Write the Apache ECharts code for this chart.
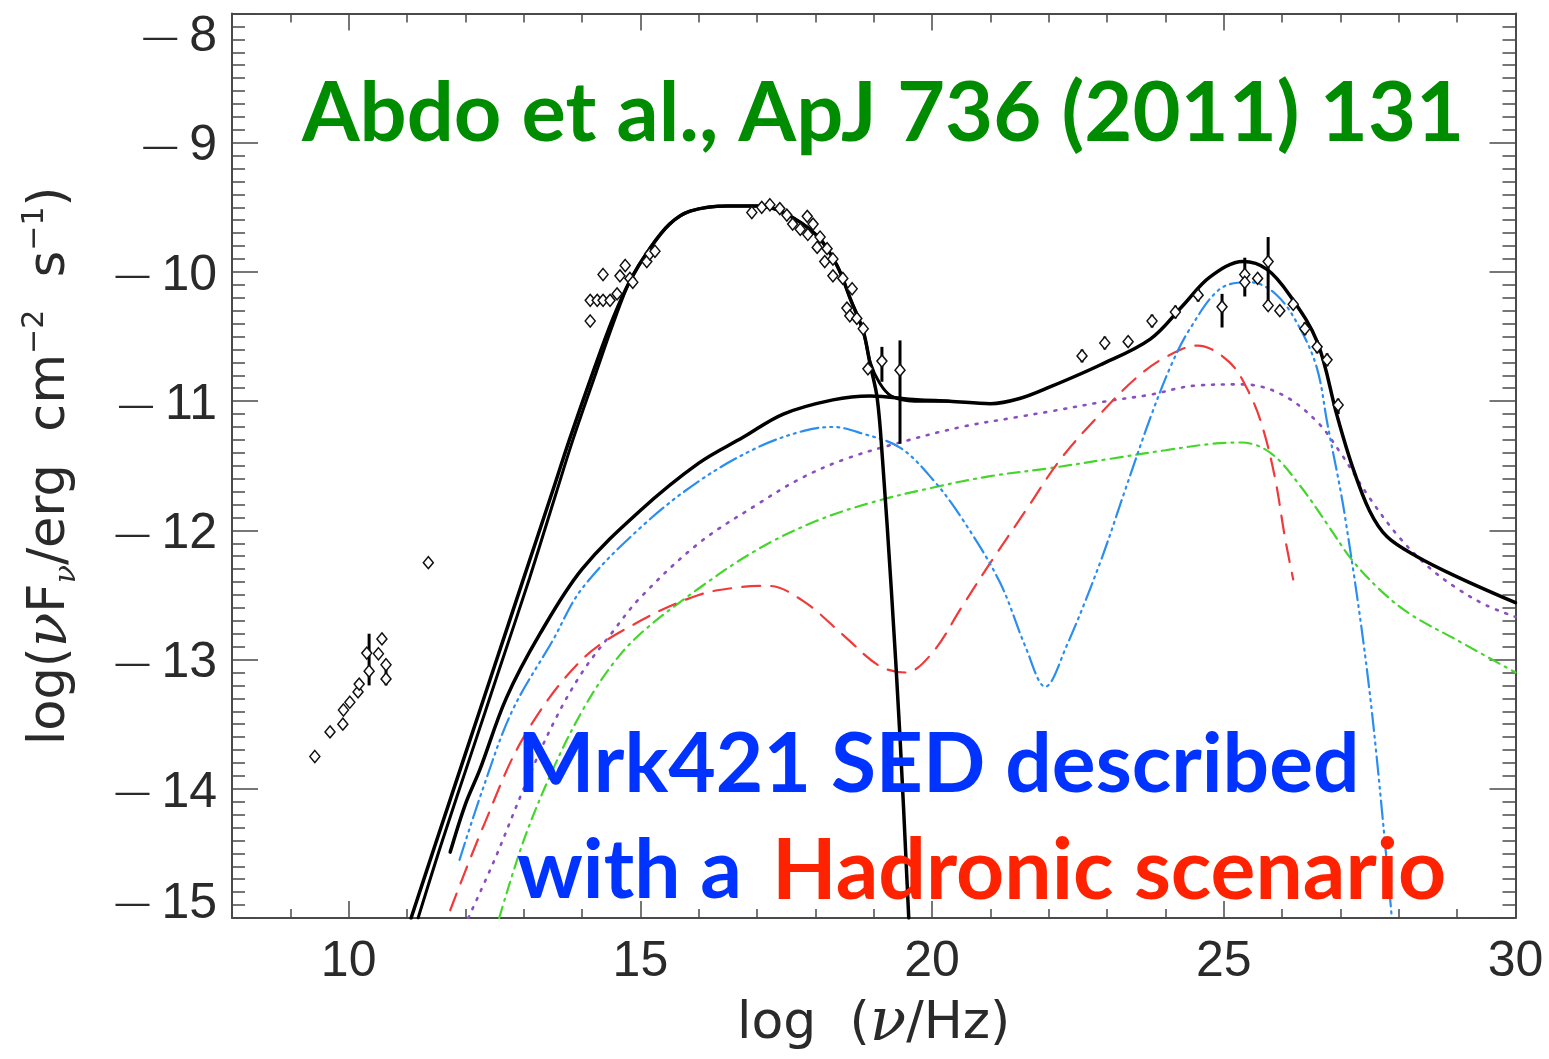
<!DOCTYPE html>
<html><head><meta charset="utf-8">
<script src="https://cdn.jsdelivr.net/npm/echarts@6/dist/echarts.min.js"></script>
<style>html,body{margin:0;padding:0;background:#fff}#c{width:1549px;height:1059px}</style>
</head><body><div id="c"></div>
<script>
// ---- data (log nu, log nuFnu) ----
const xMajorTicks = [10, 15, 20, 25, 30];
const synchrotron = [[11.07,-15],[11.5,-14.41],[12,-13.73],[12.5,-13.05],[13,-12.37],[13.5,-11.69],[13.79,-11.29],[14.2,-10.76],[14.53,-10.36],[14.82,-10.07],[15.16,-9.82],[15.5,-9.63],[15.85,-9.53],[16.5,-9.49],[17,-9.49],[17.45,-9.54],[18.03,-9.72],[18.37,-9.95],[18.6,-10.21],[18.82,-10.46],[18.94,-10.72],[19.06,-10.98],[19.15,-11.45],[19.3,-12.45],[19.45,-13.6],[19.6,-15]];
const totalLow = [[11.19,-15],[11.6,-14.41],[12.1,-13.73],[12.6,-13.05],[13.1,-12.37],[13.55,-11.72],[13.85,-11.29],[14.24,-10.78],[14.55,-10.38],[14.82,-10.07],[15.16,-9.82],[15.5,-9.63],[15.85,-9.53],[16.5,-9.49],[17,-9.49],[17.45,-9.54],[18.03,-9.72],[18.37,-9.95],[18.6,-10.21],[18.82,-10.46],[18.94,-10.7],[19.1,-10.86],[19.3,-10.96],[19.7,-11.0],[20.3,-11.0]];
const hadronicSum = [[11.74,-14.49],[12,-14.12],[12.25,-13.85],[12.7,-13.3],[13.28,-12.8],[14,-12.3],[14.99,-11.85],[16,-11.48],[16.76,-11.28],[17.45,-11.1],[18.3,-10.99],[18.94,-10.96],[19.74,-10.99],[20.3,-11.0],[21,-11.02],[21.5,-10.98],[22.02,-10.89],[22.88,-10.72],[23.74,-10.52],[24.3,-10.26],[24.76,-10.04],[25.33,-9.92],[25.74,-9.98],[26.13,-10.18],[26.6,-10.54],[26.94,-11.11],[27.2,-11.5],[27.5,-11.85],[27.8,-12.05],[28.3,-12.2],[29,-12.36],[30,-12.56]];
const blueComp = [[11.9,-14.55],[12.3,-14.0],[12.8,-13.4],[13.5,-12.85],[14,-12.45],[15,-11.98],[16,-11.62],[17,-11.36],[17.8,-11.23],[18.3,-11.2],[18.8,-11.25],[19.45,-11.36],[20,-11.6],[20.5,-11.9],[21.16,-12.4],[21.6,-12.9],[21.94,-13.21],[22.3,-12.9],[22.88,-12.25],[23.3,-11.7],[23.74,-11.13],[24.1,-10.72],[24.42,-10.44],[24.94,-10.13],[25.45,-10.08],[25.91,-10.18],[26.31,-10.44],[26.6,-10.75],[26.77,-11.16],[27.08,-11.9],[27.51,-13.29],[27.88,-15]];
const redComp = [[11.74,-14.94],[12.3,-14.3],[13,-13.6],[14,-13.0],[15,-12.7],[16,-12.5],[16.7,-12.44],[17.2,-12.43],[17.8,-12.55],[18.5,-12.82],[19.1,-13.05],[19.55,-13.1],[20,-12.95],[20.5,-12.6],[21,-12.25],[21.6,-11.85],[22.2,-11.45],[22.88,-11.1],[23.5,-10.82],[24,-10.66],[24.55,-10.57],[25.1,-10.7],[25.45,-10.95],[25.67,-11.21],[25.88,-11.6],[26.05,-12.06],[26.19,-12.38]];
const purpleComp = [[12.05,-15],[12.5,-14.55],[13,-14.0],[13.5,-13.5],[14,-13.1],[14.5,-12.8],[15,-12.52],[16,-12.1],[17,-11.8],[17.74,-11.6],[18.5,-11.45],[19.45,-11.32],[20.5,-11.2],[21.5,-11.12],[22.02,-11.08],[23,-11.0],[23.74,-10.95],[24.5,-10.88],[25.33,-10.87],[26,-10.95],[26.6,-11.16],[27,-11.4],[27.5,-11.75],[28,-12.05],[28.5,-12.28],[29,-12.45],[29.5,-12.58],[30,-12.67]];
const greenComp = [[12.58,-15],[13,-14.4],[13.5,-13.85],[14,-13.4],[14.5,-13.05],[15,-12.8],[16,-12.45],[17,-12.15],[18,-11.93],[19,-11.78],[20,-11.67],[21,-11.58],[22,-11.52],[23,-11.45],[24,-11.38],[24.8,-11.33],[25.3,-11.32],[25.8,-11.4],[26.3,-11.65],[26.8,-11.97],[27.2,-12.23],[27.7,-12.47],[28.2,-12.65],[29,-12.85],[30,-13.1]];
const radioPts = [[9.42,-13.75],[9.68,-13.56],[9.9,-13.5],[9.91,-13.39],[10.02,-13.33],[10.16,-13.25],[10.18,-13.19],[10.31,-12.95],[10.35,-13.09],[10.51,-12.955],[10.57,-12.84],[10.64,-13.04],[10.64,-13.15],[11.365,-12.25]];
const opticalPts = [[14.14,-10.38],[14.14,-10.22],[14.26,-10.22],[14.36,-10.22],[14.48,-10.22],[14.36,-10.02],[14.6,-10.17],[14.65,-10.03],[14.74,-9.95],[14.82,-10.05],[14.87,-10.08],[15.11,-9.92],[15.16,-9.86],[15.25,-9.84]];
const xrayPts = [[16.91,-9.54],[17.08,-9.5],[17.22,-9.48],[17.39,-9.51],[17.51,-9.56],[17.61,-9.63],[17.74,-9.67],[17.86,-9.57],[17.87,-9.71],[17.96,-9.63],[18.03,-9.81],[18.08,-9.73],[18.16,-9.92],[18.2,-9.82],[18.3,-10.03],[18.3,-9.9],[18.47,-10.05],[18.54,-10.28],[18.59,-10.34],[18.63,-10.13],[18.71,-10.36],[18.82,-10.44],[18.9,-10.75],[19.14,-10.69],[19.45,-10.76]];
const gammaPts = [[22.57,-10.65],[22.96,-10.55],[23.36,-10.54],[23.77,-10.38],[24.17,-10.31],[24.56,-10.18],[24.97,-10.27],[25.36,-10.02],[25.36,-10.08],[25.58,-10.05],[25.76,-9.92],[25.76,-10.26],[25.96,-10.3],[26.19,-10.25],[26.39,-10.44],[26.6,-10.58],[26.77,-10.68],[26.96,-11.03]];
// error bars: [x, low, high]
const errorBars = [[10.35,-13.2,-12.8],[10.64,-13.2,-13.0],[19.14,-10.85,-10.58],[19.45,-11.33,-10.53],[22.57,-10.7,-10.6],[22.96,-10.6,-10.5],[23.36,-10.58,-10.5],[23.77,-10.43,-10.33],[24.17,-10.36,-10.26],[24.56,-10.23,-10.13],[24.97,-10.43,-10.17],[25.36,-10.19,-9.89],[25.76,-10.26,-9.73],[26.39,-10.49,-10.39],[26.6,-10.63,-10.53],[26.77,-10.73,-10.63],[26.96,-11.1,-10.98]];

const chart = echarts.init(document.getElementById('c'), null, {renderer:'canvas'});
const axisCol = '#4a4a4a';
const txtCol = '#2a2a2a';
function xAx(pos, major, labels){
  const a = {type:'value', min:8, max:30, position:pos, splitLine:{show:false},
    axisLine:{show:!major, onZero:false, lineStyle:{color:axisCol, width:2}},
    axisTick:{show:true, inside:true, length: major?17:9, lineStyle:{color:axisCol,width:1.5}},
    axisLabel:{show:false}};
  if (major){ a.axisTick.customValues = xMajorTicks.slice(0,4); }
  else { a.interval = 1; }
  if (labels){ a.axisLabel = {show:true, customValues: xMajorTicks, margin:19, fontFamily:'Liberation Sans', fontSize:50, color:txtCol};
    a.name = 'log  ({i|ν}/Hz)'; a.nameLocation='middle'; a.nameGap = 76;
    a.nameTextStyle = {fontFamily:'DejaVu Sans', fontSize:52, color:txtCol, rich:{i:{fontFamily:'DejaVu Serif', fontStyle:'italic', fontSize:60, color:txtCol}}};
  }
  return a;
}
function yLabelRich(){
  const r = {};
  const pads = {n:[8,0,0,0], t:[48,0,0,0], b:[0,0,28,0]};
  for (const k in pads){
    const p = pads[k];
    r['m'+k] = {fontFamily:'Liberation Sans', fontSize:34, color:txtCol, padding:[p[0],12,p[2],0]};
    r['d'+k] = {fontFamily:'Liberation Sans', fontSize:50, color:txtCol, padding:p};
  }
  return r;
}
function yAx(pos, labels){
  const a = {type:'value', min:-15, max:-8, interval:1, position:pos, splitLine:{show:false},
    axisLine:{show:true, onZero:false, lineStyle:{color:axisCol, width:2}},
    axisTick:{show:true, inside:true, length:26, lineStyle:{color:axisCol,width:1.5}},
    minorTick:{show:true, splitNumber:10, length:13, lineStyle:{color:axisCol,width:1.5}},
    axisLabel:{show:false}};
  if (labels){
    a.axisLabel = {show:true, margin:15, rich: yLabelRich(),
      formatter: v => { const k = v === -8 ? 't' : (v === -15 ? 'b' : 'n'); return '{m'+k+'|\u2014}{d'+k+'|' + Math.abs(v) + '}'; }};
    a.name = 'log({i|ν}F{sub|ν}/erg  cm{sup|−2}  s{sup|−1})';
    a.nameLocation = 'middle'; a.nameRotate = 90; a.nameGap = 150;
    a.nameTextStyle = {fontFamily:'DejaVu Sans', fontSize:51, color:txtCol, lineHeight:62,
      rich:{ i:{fontFamily:'DejaVu Serif', fontStyle:'italic', fontSize:57, color:txtCol},
             sub:{fontFamily:'DejaVu Serif', fontStyle:'italic', fontSize:30, color:txtCol, verticalAlign:'bottom', lineHeight:32},
             sup:{fontFamily:'DejaVu Sans', fontSize:30, color:txtCol, verticalAlign:'top', lineHeight:32}}};
  }
  return a;
}
const lineBase = (data, color, width, type) => ({type:'line', data, xAxisIndex:0, yAxisIndex:0, showSymbol:false, symbol:'none', smooth:0.35, silent:true, clip:true,
  lineStyle:{color, width, type, cap:'round'}, z:2});
const ptStyle = {type:'scatter', xAxisIndex:0, yAxisIndex:0, symbol:'diamond', symbolSize:[10,12],
  itemStyle:{color:'#fff', borderColor:'#111', borderWidth:1.5, opacity:1}, z:6, silent:true};

chart.setOption({
  animation:false,
  grid:{left:232, top:13.5, right:33.5, bottom:137, containLabel:false},
  xAxis:[xAx('bottom',false,true), xAx('bottom',true,false), xAx('top',false,false), xAx('top',true,false)],
  yAxis:[yAx('left',true), yAx('right',false)],
  series:[
    lineBase(greenComp, '#44d62a', 2.2, [12,6,2,6]),
    lineBase(purpleComp, '#8a4fbf', 2.6, [2,8]),
    lineBase(redComp, '#f03a3a', 2.2, [18,11]),
    lineBase(blueComp, '#2b8df0', 2.2, [18,5,2,5,2,5,2,5]),
    lineBase(hadronicSum, '#000', 3.5, 'solid'),
    lineBase(totalLow, '#000', 3, 'solid'),
    lineBase(synchrotron, '#000', 3.5, 'solid'),
    {type:'custom', xAxisIndex:0, yAxisIndex:0, data:errorBars, z:5, silent:true,
      renderItem:(params, api) => {
        const a = api.coord([api.value(0), api.value(1)]);
        const b = api.coord([api.value(0), api.value(2)]);
        return {type:'line', shape:{x1:a[0], y1:a[1], x2:b[0], y2:b[1]}, style:{stroke:'#000', lineWidth:3}};
      }},
    Object.assign({data:radioPts}, ptStyle),
    Object.assign({data:opticalPts}, ptStyle),
    Object.assign({data:xrayPts}, ptStyle),
    Object.assign({data:gammaPts}, ptStyle)
  ],
  graphic:[
    {type:'text', left:302, top:73, style:{text:'Abdo et al., ApJ 736 (2011) 131', font:'bold 83px Lato', fill:'#008c00'}, z:10},
    {type:'text', left:517, top:725, style:{text:'Mrk421 SED described', font:'bold 82px Lato', fill:'#0033ff'}, z:10},
    {type:'text', left:517, top:831, style:{text:'with a ', font:'bold 82px Lato', fill:'#0033ff'}, z:10},
    {type:'text', left:772, top:830, style:{text:'Hadronic scenario', font:'bold 84px Lato', fill:'#ff2200'}, z:10}
  ]
});
</script></body></html>
